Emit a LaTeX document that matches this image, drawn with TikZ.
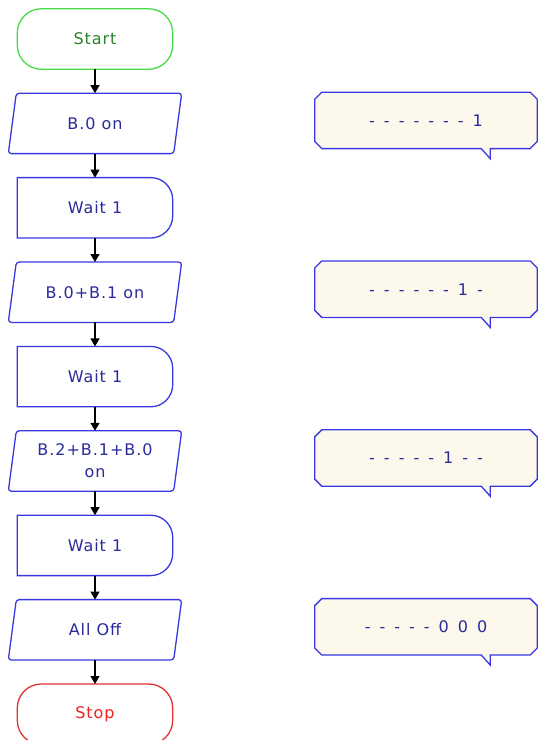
\documentclass[tikz,border=0pt]{standalone}
\usepackage{fontspec}
\setmainfont{DejaVu Sans}[LetterSpace=6]
\usetikzlibrary{arrows.meta}
\definecolor{gline}{RGB}{70,220,70}
\definecolor{gtext}{RGB}{40,130,40}
\definecolor{bline}{RGB}{56,56,224}
\definecolor{btext}{RGB}{42,42,156}
\definecolor{rline}{RGB}{224,48,48}
\definecolor{rtext}{RGB}{240,32,32}
\definecolor{cfill}{RGB}{253,248,236}
\newcommand{\cbtext}[1]{\spaceskip 9pt\relax #1}
\tikzset{
  box/.style={rectangle, inner sep=0pt, minimum width=155pt, minimum height=60pt, align=center,
    font=\fontsize{16}{22}\selectfont, text=btext},
  pbox/.style={box, minimum width=165pt},
  cbox/.style={rectangle, inner sep=0pt, minimum width=222pt, minimum height=56pt,
    font=\fontsize{16}{22}\selectfont, text=btext},
  edge/.style={draw=black, line width=1.2pt, -{Triangle[width=9pt,length=8pt]}},
  outl/.style={line width=1.3pt},
}
\newcommand{\termshape}[2]{\draw[outl,draw=#2,rounded corners=24pt] (#1.north west) rectangle (#1.south east);}
\newcommand{\waitshape}[1]{\draw[outl,draw=bline] (#1.north west) -- ([xshift=-22pt]#1.north east) arc[start angle=90,end angle=0,radius=22pt] -- ([yshift=22pt]#1.south east) arc[start angle=0,end angle=-90,radius=22pt] -- (#1.south west) -- cycle;}
\newcommand{\parashape}[1]{\draw[outl,draw=bline,rounded corners=3pt] ([xshift=4pt]#1.north west) -- ([xshift=4pt]#1.north east) -- ([xshift=-4pt]#1.south east) -- ([xshift=-4pt]#1.south west) -- cycle;}
\newcommand{\calloutshape}[1]{\draw[outl,draw=bline,fill=cfill] ([xshift=7pt]#1.north west) -- ([xshift=-7pt]#1.north east) -- ([yshift=-7pt]#1.north east) -- ([yshift=7pt]#1.south east) -- ([xshift=-7pt]#1.south east) -- ([xshift=-47pt]#1.south east) -- ([xshift=-47pt,yshift=-10pt]#1.south east) -- ([xshift=-56pt]#1.south east) -- ([xshift=7pt]#1.south west) -- ([yshift=7pt]#1.south west) -- ([yshift=-7pt]#1.north west) -- cycle;}
\begin{document}
\begin{tikzpicture}[x=1pt,y=-1pt]
\useasboundingbox (0,0) rectangle (538,740);
\clip (0,0) rectangle (538,740);
% flow nodes
\node[box, text=gtext] (start) at (95,39) {Start};
\node[pbox] (p1) at (95,123.4) {B.0 on};
\node[box] (w1) at (95,207.8) {Wait 1};
\node[pbox] (p2) at (95,292.2) {B.0+B.1 on};
\node[box] (w2) at (95,376.6) {Wait 1};
\node[pbox] (p3) at (95,461) {B.2+B.1+B.0\\on};
\node[box] (w3) at (95,545.4) {Wait 1};
\node[pbox] (p4) at (95,629.8) {All Off};
\node[box, text=rtext] (stop) at (95,714.2) {Stop};
\termshape{start}{gline}
\termshape{stop}{rline}
\parashape{p1}\parashape{p2}\parashape{p3}\parashape{p4}
\waitshape{w1}\waitshape{w2}\waitshape{w3}
% connectors
\draw[edge] (start.south) -- (p1.north);
\draw[edge] (p1.south) -- (w1.north);
\draw[edge] (w1.south) -- (p2.north);
\draw[edge] (p2.south) -- (w2.north);
\draw[edge] (w2.south) -- (p3.north);
\draw[edge] (p3.south) -- (w3.north);
\draw[edge] (w3.south) -- (p4.north);
\draw[edge] (p4.south) -- (stop.north);
% callouts
\node[cbox] (c1) at (426,120.4) {};
\calloutshape{c1}
\node[cbox] (t1) at (c1.center) {\cbtext{- - - - - - - 1}};
\node[cbox] (c2) at (426,289.2) {};
\calloutshape{c2}
\node[cbox] (t2) at (c2.center) {\cbtext{- - - - - - 1 -}};
\node[cbox] (c3) at (426,458) {};
\calloutshape{c3}
\node[cbox] (t3) at (c3.center) {\cbtext{- - - - - 1 - -}};
\node[cbox] (c4) at (426,626.8) {};
\calloutshape{c4}
\node[cbox] (t4) at (c4.center) {\cbtext{- - - - - 0 0 0}};
\end{tikzpicture}
\end{document}
